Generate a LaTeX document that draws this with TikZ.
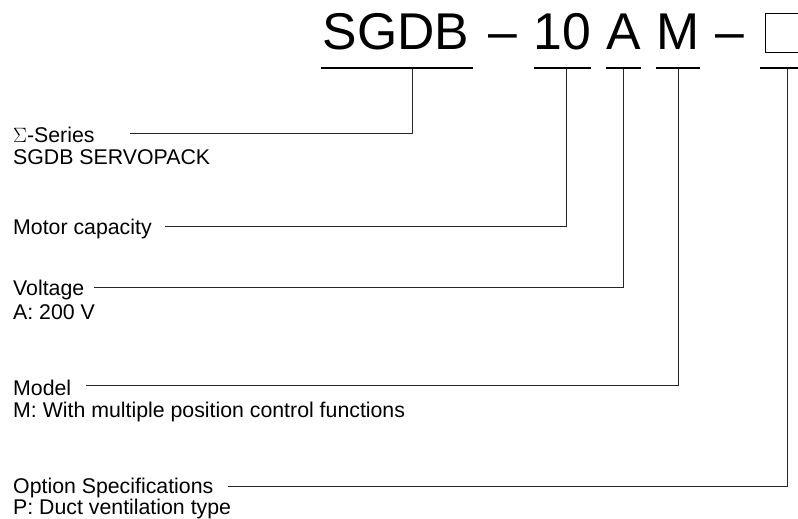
\documentclass[tikz,border=0pt]{standalone}
\usepackage{fontspec}
\setmainfont{Liberation Sans}
\usepackage{tikz}
\usetikzlibrary{positioning}

\tikzset{
    code/.style={inner sep=0pt, anchor=base, font=\fontsize{51.7}{60}\selectfont},
    lbl/.style={inner sep=0pt, anchor=base west, font=\fontsize{21.3}{24}\selectfont},
    uline/.style={line width=2.2pt},
    lead/.style={line width=0.9pt, black!85},
}

\begin{document}
\begin{tikzpicture}[x=1pt, y=-1pt]
        \useasboundingbox (0,0) rectangle (798,519);
        % model code
        \node[code] (codeS) at (396,50) {SGDB};
        \node[code] (dashA) at (503,50) {--};
        \node[code] (code10) at (562.5,50) {10};
        \node[code] (codeA) at (623.5,50) {A};
        \node[code] (codeM) at (678,50) {M};
        \node[code] (dashB) at (730,50) {--};
        \node[draw, line width=0.9pt, minimum size=39pt, inner sep=0pt] (codeBox) at (784.5,32.5) {};
        \draw[uline] ([xshift=-2pt,yshift=-18pt]codeS.base west) -- ([xshift=4pt,yshift=-18pt]codeS.base east);
        \draw[uline] ([yshift=-18pt]code10.base west) -- ([yshift=-18pt]code10.base east);
        \draw[uline] ([yshift=-18pt]codeA.base west) -- ([yshift=-18pt]codeA.base east);
        \draw[uline] ([yshift=-18pt]codeM.base west) -- ([yshift=-18pt]codeM.base east);
        \draw[uline] ([xshift=-5pt]codeBox.south west |- 0,68) -- ([xshift=10pt]codeBox.south east |- 0,68);
        \coordinate (tS) at (412,69);
        \coordinate (t10) at (566,69);
        \coordinate (tA) at (623,69);
        \coordinate (tM) at (678,69);
        \coordinate (tBox) at (787,69);
        % labels
        \node[lbl] (lblSeries) at (13,142) {$\Sigma$-Series};
        \node[lbl] (lblSeriesB) at ([yshift=-22pt]lblSeries.base west) {SGDB SERVOPACK};
        \node[lbl] (lblMotor) at (13,234) {Motor capacity};
        \node[lbl] (lblVolt) at (13,295) {Voltage};
        \node[lbl] (lblVoltB) at ([yshift=-24pt]lblVolt.base west) {A: 200 V};
        \node[lbl] (lblModel) at (13,395) {Model};
        \node[lbl] (lblModelB) at ([yshift=-22pt]lblModel.base west) {M: With multiple position control functions};
        \node[lbl] (lblOpt) at (13,493) {Option Specifications};
        \node[lbl] (lblOptB) at ([yshift=-21pt]lblOpt.base west) {P: Duct ventilation type};
        % leaders
        \draw[lead] (tS) |- ([xshift=35pt,yshift=9pt]lblSeries.base east);
        \draw[lead] (t10) |- ([xshift=13pt,yshift=8pt]lblMotor.base east);
        \draw[lead] (tA) |- ([xshift=10pt,yshift=8pt]lblVolt.base east);
        \draw[lead] (tM) |- ([xshift=15pt,yshift=10pt]lblModel.base east);
        \draw[lead] (tBox) |- ([xshift=15pt,yshift=7pt]lblOpt.base east);
    \end{tikzpicture}
\end{document}
